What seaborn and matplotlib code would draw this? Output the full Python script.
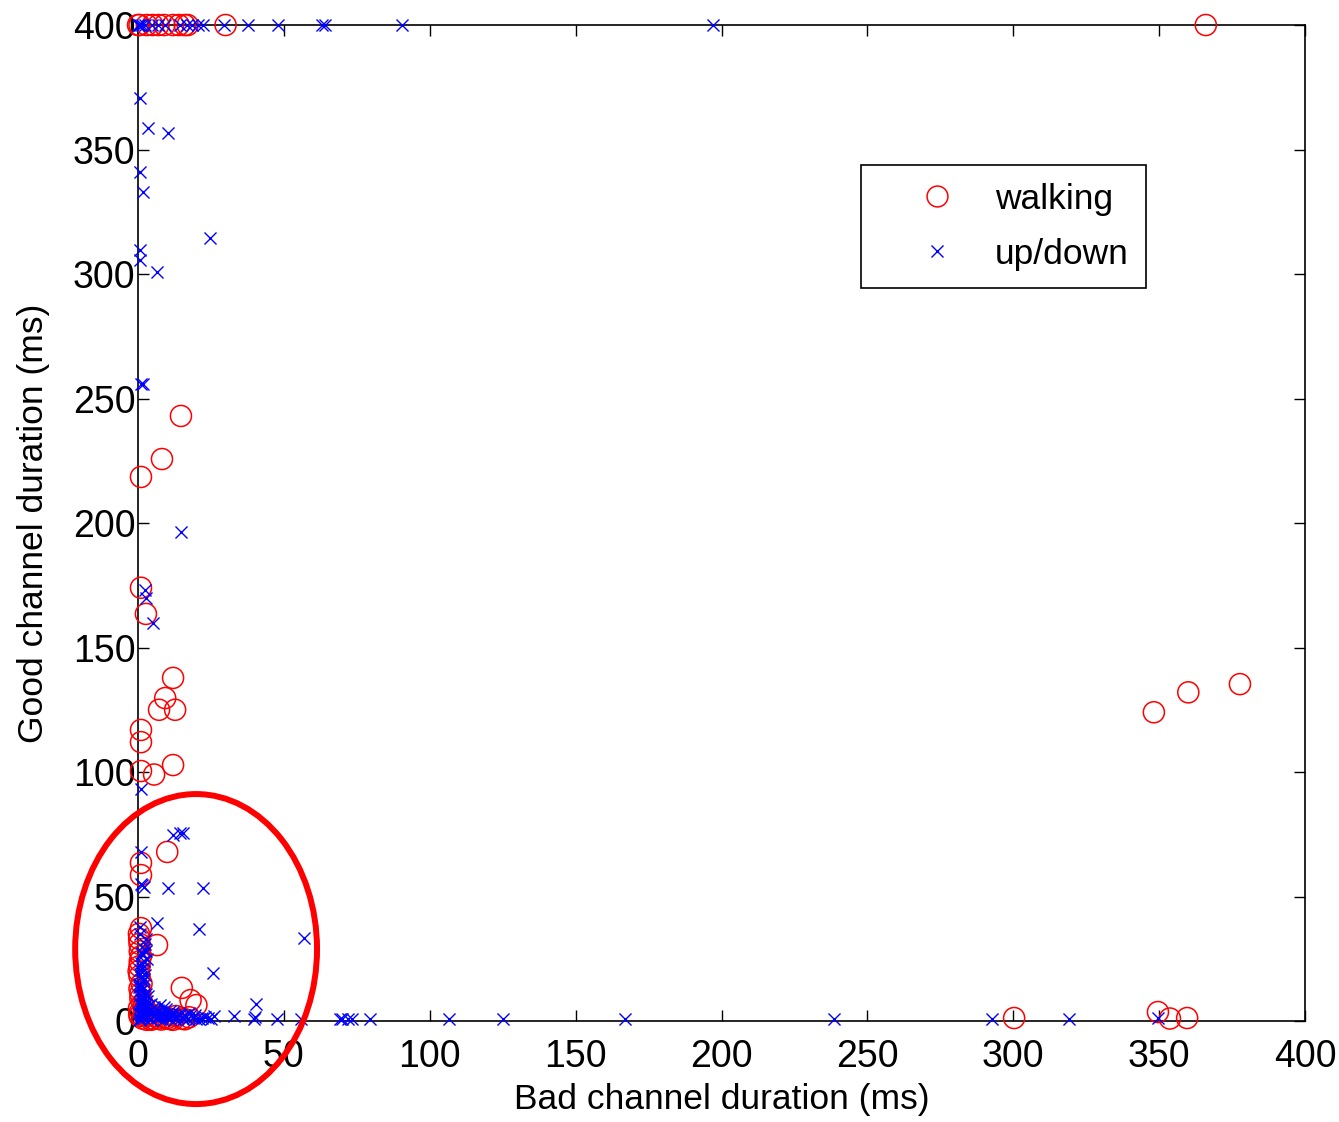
import matplotlib
matplotlib.use("Agg")
import matplotlib.pyplot as plt
from matplotlib.lines import Line2D
from matplotlib.patches import Ellipse
import pandas as pd
import seaborn as sns

# Walking: (bad channel duration, good channel duration) in ms
walk_x = [0, 0.5, 3, 5, 7, 9, 12, 14, 16, 17, 30, 366,
          14.7, 8.2, 1, 1, 2.7, 12, 9.3, 7.2, 12.7, 1, 1, 1, 5.5, 12,
          10, 1, 1, 1, 0.5, 6.5, 0.5, 0.5, 0.5, 0.8, 0.3, 0.5, 1.5, 3, 5,
          15, 18, 20, 15, 9, 12, 4, 2, 1, 1.2, 0.4, 0.6, 2.5, 7, 11,
          0.3, 0.6, 0.2, 0.8, 1.5, 0.4, 2, 3.5, 6, 8, 10, 13, 16, 17.5, 4.5,
          348.2, 360, 377.7, 300.3, 349.6, 353.7, 359.6]
walk_y = [400, 400, 400, 400, 400, 400, 400, 400, 400, 400, 400, 400,
          243, 225.7, 218.5, 174, 163.5, 137.8, 129.7, 125, 125, 116.9, 112, 100.4, 99, 102.8,
          67.9, 63.5, 58.6, 37.3, 31, 30.5, 22, 18, 13, 9, 5, 2, 1, 0.5, 1,
          13.3, 8.4, 6.4, 1, 1.5, 0.5, 3, 6, 26, 15, 33, 28, 2, 1, 0.8,
          35, 24, 20, 11, 7, 3, 4, 2.5, 2, 0.6, 1.2, 2, 0.7, 1.5, 0.5,
          124, 132, 135.3, 1.2, 3.6, 1, 1.2]

# Walking up/down stairs
updown_x = [0, 0.3, 0.7, 1.2, 2.4, 4.8, 6.9, 9.3, 14.4, 16.8, 18.5, 20.6, 22.3, 29.5, 37.7, 48, 63, 64, 90.5, 197,
            0.7, 3.4, 10.3, 0.7, 1.7, 24.7, 0.7, 0.7, 6.5, 1, 1.8, 14.7, 2.4, 2.7, 5.1,
            1, 12, 14.4, 15.4, 1, 1, 1.5, 2, 10.3, 22.3, 0.7, 6.5, 21, 57, 25.8, 40.5,
            2.5, 1.5, 3, 1, 0.5, 2, 1.2, 0.8, 3.5, 1.5, 0.6, 2.2, 4, 1, 0.4, 2.8, 1.8, 0.9, 3.2, 0.5,
            5, 7, 9, 11, 13, 15, 17, 19, 21, 23, 25, 6, 8, 10, 12, 3, 4, 2, 1.4, 0.3,
            0.5, 1.0, 1.5, 2.0, 2.5, 3.0, 0.8, 1.3, 1.8, 2.3, 0.6, 1.1, 1.6, 2.1, 2.6, 0.4, 0.9, 1.4, 1.9, 3.3,
            0.7, 1.2, 1.7, 2.2, 0.5, 1.0, 1.5, 2.0, 2.7, 0.6, 1.1, 1.6, 0.8, 1.3, 0.4, 1.0,
            4.5, 5.5, 6.5, 7.5, 8.5, 9.5, 10.5, 11.5, 12.5, 13.5, 14.5, 15.5, 16.5, 18.0, 20.0, 22.0,
            4.0, 5.0, 6.0, 7.0, 8.0, 9.0, 10.0, 11.0, 12.0, 14.0, 16.0, 3.5, 4.5, 5.5, 7.5, 9.5,
            24.0, 26.0, 19.5, 17.5,
            33, 39.6, 40, 47.6, 56, 69.2, 70, 72, 73.3, 79.5, 106.6, 125, 167, 238.6, 292.7, 319, 349.6]
updown_y = [400, 400, 400, 400, 400, 400, 400, 400, 400, 400, 400, 400, 400, 400, 400, 400, 400, 400, 400, 400,
            370.5, 358.6, 356.6, 341, 333, 314.5, 309.6, 305.6, 301, 256, 256, 196.4, 173, 170, 160,
            93, 74.7, 75.5, 75.5, 67.9, 55, 54.6, 54, 53.4, 53.4, 37.8, 39.4, 37, 33.3, 19.3, 6.8,
            31, 27, 25, 22, 19, 17, 14, 12, 10, 8, 7, 5, 4, 3, 15, 11, 9, 6, 2, 1,
            2, 1.5, 2.5, 1, 2, 1.5, 1, 1.2, 1, 1.5, 1, 3, 2.2, 1.8, 2.5, 4, 1, 1.2, 2, 3.5,
            1.0, 2.0, 3.0, 4.5, 6.0, 8.0, 10.5, 12.5, 16.0, 18.5, 20.5, 23.5, 26.5, 29.0, 33.0, 13.5, 9.0, 5.0, 2.8, 1.5,
            0.5, 3.5, 7.0, 11.0, 14.0, 17.5, 21.0, 24.0, 28.0, 0.8, 4.0, 9.5, 35.0, 27.5, 3.0, 6.5,
            0.8, 2.2, 1.5, 3.0, 0.6, 2.0, 1.2, 2.8, 0.9, 1.8, 2.4, 0.7, 1.6, 2.6, 1.0, 1.4,
            4.0, 3.5, 5.0, 4.5, 3.2, 5.5, 2.7, 4.2, 3.8, 3.0, 2.5, 6.0, 7.0, 5.8, 6.5, 4.8,
            1.2, 2.0, 2.6, 3.1,
            2, 1, 1.5, 1, 1, 1, 1, 1, 1, 1, 1, 1, 1, 1, 1, 1, 1.2]

ticks = [0, 50, 100, 150, 200, 250, 300, 350, 400]

walk_df = pd.DataFrame({"bad": walk_x, "good": walk_y})
updown_df = pd.DataFrame({"bad": updown_x, "good": updown_y})

sns.set_style("white")
plt.rcParams["font.family"] = ["Liberation Sans", "DejaVu Sans"]
plt.rcParams.update({"text.color": "black", "axes.labelcolor": "black",
                     "xtick.color": "black", "ytick.color": "black"})

fig = plt.figure(figsize=(13.39, 11.22), dpi=100)
ax = fig.add_axes([0.1031, 0.09, 0.8715, 0.8877])

sns.scatterplot(data=walk_df, x="bad", y="good", marker="o", s=230,
                color="red", linewidth=1.1, ax=ax, clip_on=False, zorder=3)
circles = ax.collections[-1]
circles.set_facecolor("none")
circles.set_edgecolor("red")

sns.scatterplot(data=updown_df, x="bad", y="good", marker="x", s=75,
                color="blue", linewidth=1.0, ax=ax, clip_on=False, zorder=4)

ax.set_xlim(0, 400)
ax.set_ylim(0, 400)
ax.set_xticks(ticks)
ax.set_yticks(ticks)
ax.set_xticklabels([str(t) for t in ticks])
ax.set_yticklabels([str(t) for t in ticks])
ax.tick_params(direction="in", length=8, width=1, labelsize=27,
               top=True, right=True, bottom=True, left=True)
ax.tick_params(axis="x", pad=13)
ax.tick_params(axis="y", pad=2)
for sp in ax.spines.values():
    sp.set_visible(True)
    sp.set_color("black")
    sp.set_linewidth(1.2)

ax.set_xlabel("Bad channel duration (ms)", fontsize=25.5, labelpad=6)
ax.set_ylabel("Good channel duration (ms)", fontsize=25.5, labelpad=16)

# highlight around the short-duration cluster
ax.add_patch(Ellipse((19.9, 28.9), 82.9, 124.5, fill=False, edgecolor="red",
                     linewidth=4.3, clip_on=False, zorder=5))

handles = [
    Line2D([], [], linestyle="none", marker="o", markersize=15,
           markerfacecolor="none", markeredgecolor="red", markeredgewidth=1.1),
    Line2D([], [], linestyle="none", marker="x", markersize=8,
           color="blue", markeredgewidth=1.0),
]
leg = ax.legend(handles, ["walking", "up/down"], loc="upper right",
                bbox_to_anchor=(0.8638, 0.8594), fontsize=25.5, frameon=True,
                fancybox=False, edgecolor="black", framealpha=1,
                borderpad=0.5, handletextpad=0.02, handlelength=3.24,
                labelspacing=0.62, borderaxespad=0)
leg.get_frame().set_linewidth(1.2)

fig.savefig("out.png", dpi=100)
